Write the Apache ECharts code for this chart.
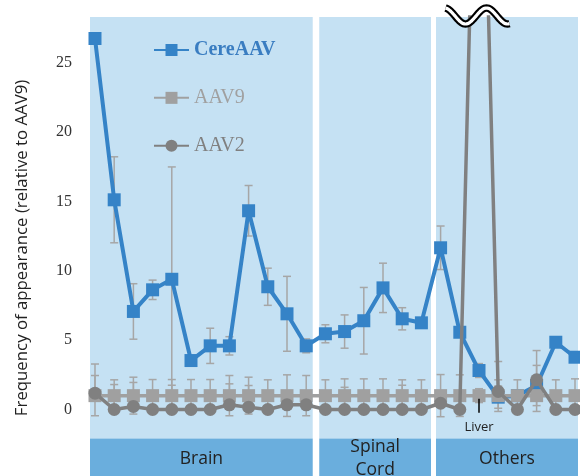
<!DOCTYPE html>
<html><head><meta charset="utf-8">
<script src="https://cdn.jsdelivr.net/npm/echarts@6/dist/echarts.min.js"></script>
<style>html,body{margin:0;padding:0;background:#fff}#c{width:580px;height:476px}</style>
</head><body><div id="c"></div>
<script>
// ---- data (index along the x axis = tissue position) ----
const tissueLabels = ['','','','','','','','','','','','','','','','','','','','','Liver','','','','',''];
const groupNames = ['Brain', 'Spinal\nCord', 'Others'];
const groupFirstIndex = [0, 12, 18];
const groupLastIndex = [11, 17, 25];
const cereAAV = [26.75, 15.12, 7.07, 8.63, 9.39, 3.53, 4.59, 4.59, 14.33, 8.85, 6.9, 4.59, 5.46, 5.62, 6.4, 8.77, 6.54, 6.25, 11.66, 5.57, 2.81, 0.89, 1.0, 1.73, 4.85, 3.77];
const cereErr = [0, 3.1, 2.0, 0.7, 8.1, 0.3, 1.27, 0.66, 1.82, 1.34, 2.7, 0.5, 0.65, 1.2, 2.4, 1.78, 0.8, 0.2, 1.57, 0.3, 0.5, 0.8, 0, 1.45, 0.3, 0.3];
const aav9 = [1,1,1,1,1,1,1,1,1,1,1,1,1,1,1,1,1,1,1,1,1,1,1,1,1,1];
const aav9Err = [1.45, 1.14, 1.33, 1.16, 1.16, 1.16, 1.16, 1.45, 1.33, 1.14, 1.5, 1.45, 1.14, 1.21, 1.21, 1.21, 1.14, 1.14, 1.52, 1.5, 0.5, 1.14, 1.14, 1.14, 1.14, 1.21];
const aav2 = [1.18, 0, 0.22, 0, 0, 0, 0, 0.34, 0.17, 0, 0.34, 0.34, 0, 0, 0, 0, 0, 0, 0.45, 0, 55, 1.3, 0, 2.14, 0, 0];
const aav2ErrUp = [2.1, 1.8, 1.73, 0, 1.75, 0, 0, 1.51, 1.56, 0, 0, 0, 0, 1.6, 0, 0, 1.75, 0, 0, 0, 0, 2.16, 0, 2.11, 0, 0];
const yTicks = [0, 5, 10, 15, 20, 25];
const breakIndex = 20; // axis break drawn above the off-scale AAV2 liver value

// ---- layout / style ----
const Y_MIN = -5, Y_MAX = 28.3, PANEL_BOTTOM = -2.09;
const X_MIN = -0.26, X_MAX = 25.156;
const LIGHT = '#C5E1F3', DARK = '#6AAEDD';
const BLUE = '#3583C7', G9 = '#A0A0A0', G2 = '#808080', ERR = '#A6A6A6';
const panelLeft = [X_MIN, 11.68, 17.76];
const panelRight = [11.34, 17.5, X_MAX];
const labelIdx = tissueLabels.map((t, i) => t ? i : -1).filter(v => v >= 0);

const chart = echarts.init(document.getElementById('c'), null, {renderer: 'canvas'});

const errData = [];
cereAAV.forEach((v, i) => { if (cereErr[i] > 0) errData.push([i, v - cereErr[i], v + cereErr[i], 1]); });
aav9.forEach((v, i) => { if (aav9Err[i] > 0) errData.push([i, v - aav9Err[i], v + aav9Err[i], 1]); });
aav2.forEach((v, i) => { if (aav2ErrUp[i] > 0) errData.push([i, v, v + aav2ErrUp[i], 0]); });

function renderErr(params, api) {
  const x = api.value(0);
  const top = api.coord([x, api.value(2)]);
  const bot = api.coord([x, api.value(1)]);
  const hw = 4;
  const style = {stroke: ERR, lineWidth: 1.5};
  const ch = [
    {type: 'line', shape: {x1: top[0], y1: top[1], x2: bot[0], y2: bot[1]}, style: style},
    {type: 'line', shape: {x1: top[0] - hw, y1: top[1], x2: top[0] + hw, y2: top[1]}, style: style}
  ];
  if (api.value(3)) ch.push({type: 'line', shape: {x1: bot[0] - hw, y1: bot[1], x2: bot[0] + hw, y2: bot[1]}, style: style});
  return {type: 'group', children: ch};
}

function renderBreak(params, api) {
  const c = api.coord([api.value(0), api.value(1)]);
  const cx = c[0] - 1.5, cy = c[1] - 1;
  const pts = [];
  for (let dx = -32; dx <= 32; dx += 1) {
    pts.push([cx + dx, cy + 8 * Math.cos(2 * Math.PI * (dx + 12) / 42)]);
  }
  return {type: 'group', children: [
    {type: 'polyline', shape: {points: pts}, style: {stroke: '#000', lineWidth: 7.5, fill: null}},
    {type: 'polyline', shape: {points: pts}, style: {stroke: '#fff', lineWidth: 3.2, fill: null}}
  ]};
}

const markAreaData = [];
groupNames.forEach((n, g) => {
  markAreaData.push([{xAxis: panelLeft[g], yAxis: PANEL_BOTTOM, itemStyle: {color: LIGHT}, label: {show: false}},
                     {xAxis: panelRight[g], yAxis: Y_MAX}]);
  markAreaData.push([{name: n, xAxis: panelLeft[g], yAxis: Y_MIN, itemStyle: {color: DARK},
                      label: {show: true, position: 'inside', color: '#222', fontFamily: 'Open Sans', fontSize: 17.5, lineHeight: 23.3}},
                     {xAxis: panelRight[g], yAxis: PANEL_BOTTOM}]);
});

const option = {
  animation: false,
  backgroundColor: '#fff',
  grid: {left: 90, top: 17, width: 488, height: 461.85, outerBoundsMode: 'none', containLabel: false},
  legend: {
    orient: 'vertical', left: 148, top: 35, itemGap: 27.85, itemWidth: 35, itemHeight: 15,
    textStyle: {fontFamily: 'Liberation Serif', fontSize: 20, lineHeight: 20},
    data: [
      {name: 'CereAAV', textStyle: {color: '#3A7DC1', fontWeight: 'bold'}},
      {name: 'AAV9', textStyle: {color: G9}},
      {name: 'AAV2', textStyle: {color: G2}}
    ]
  },
  xAxis: {
    type: 'value', min: X_MIN, max: X_MAX, position: 'bottom', offset: -66, z: 10,
    axisLine: {show: false, onZero: false}, splitLine: {show: false},
    axisTick: {show: true, inside: true, length: 14, customValues: labelIdx, lineStyle: {color: '#000', width: 1.5}},
    axisLabel: {show: true, customValues: labelIdx, formatter: v => tissueLabels[Math.round(v)] || '', margin: 8, fontFamily: 'Open Sans', fontSize: 13, color: '#222'}
  },
  yAxis: {
    type: 'value', min: Y_MIN, max: Y_MAX, interval: 5,
    name: 'Frequency of appearance (relative to AAV9)', nameLocation: 'middle', nameGap: 59,
    nameTextStyle: {fontFamily: 'Open Sans', fontSize: 16.8, color: '#222'},
    axisLine: {show: false}, axisTick: {show: false}, splitLine: {show: false},
    axisLabel: {margin: 18, fontFamily: 'Liberation Serif', fontSize: 16, color: '#333',
      formatter: v => yTicks.indexOf(v) >= 0 ? String(v) : ''}
  },
  series: [
    {type: 'custom', name: 'err', renderItem: renderErr, data: errData, encode: {x: 0, y: [1, 2]}, silent: true, z: 2},
    {type: 'line', name: 'CereAAV', data: cereAAV.map((v, i) => [i, v]), symbol: 'rect', symbolSize: 13,
      lineStyle: {color: BLUE, width: 4}, itemStyle: {color: BLUE}, z: 3,
      markArea: {silent: true, data: markAreaData}},
    {type: 'line', name: 'AAV9', data: aav9.map((v, i) => [i, v]), symbol: 'rect', symbolSize: 13,
      lineStyle: {color: G9, width: 3.5}, itemStyle: {color: G9}, z: 4},
    {type: 'line', name: 'AAV2', data: aav2.map((v, i) => [i, v]), symbol: 'circle', symbolSize: 13,
      lineStyle: {color: G2, width: 3.5}, itemStyle: {color: G2}, z: 5, clip: true},
    {type: 'custom', name: 'break', renderItem: renderBreak, data: [[breakIndex, Y_MAX]], clip: false, silent: true, z: 6}
  ]
};
chart.setOption(option);
</script></body></html>
